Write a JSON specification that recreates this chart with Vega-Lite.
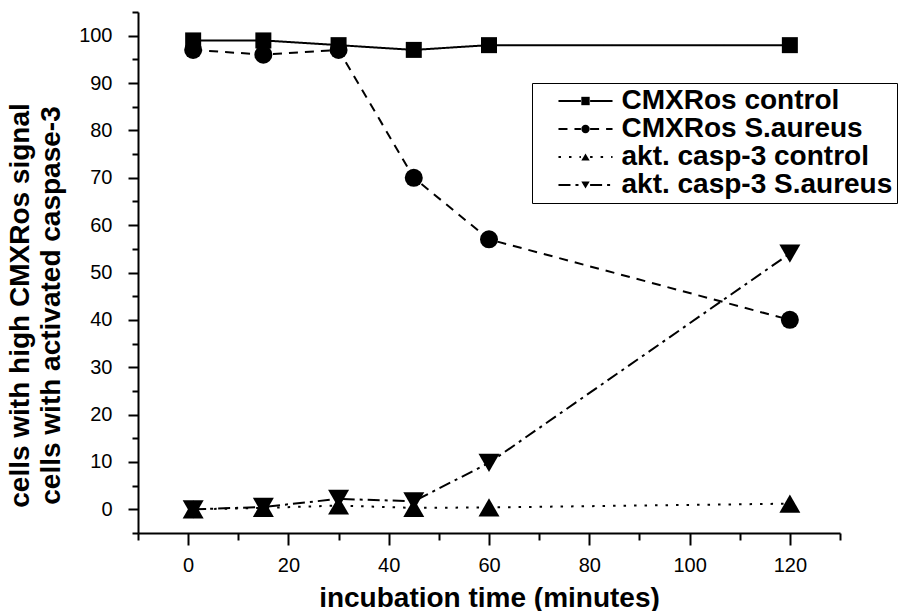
{
  "$schema": "https://vega.github.io/schema/vega-lite/v6.json",
  "autosize": "none",
  "width": 702,
  "height": 521,
  "padding": {"left": 138, "top": 12, "right": 61, "bottom": 78},
  "background": "white",
  "config": {
    "view": {"stroke": null},
    "font": "Liberation Sans",
    "axis": {"domainColor": "black", "domainWidth": 2, "tickColor": "black", "tickWidth": 2, "labelColor": "black", "titleColor": "black", "grid": false, "labelFont": "Liberation Sans", "titleFont": "Liberation Sans"}
  },
  "data": {"values": [
    {"t": 1, "v": 99, "s": "CMXRos control"},
    {"t": 15, "v": 99, "s": "CMXRos control"},
    {"t": 30, "v": 98, "s": "CMXRos control"},
    {"t": 45, "v": 97, "s": "CMXRos control"},
    {"t": 60, "v": 98, "s": "CMXRos control"},
    {"t": 120, "v": 98, "s": "CMXRos control"},
    {"t": 1, "v": 97, "s": "CMXRos S.aureus"},
    {"t": 15, "v": 96, "s": "CMXRos S.aureus"},
    {"t": 30, "v": 97, "s": "CMXRos S.aureus"},
    {"t": 45, "v": 70, "s": "CMXRos S.aureus"},
    {"t": 60, "v": 57, "s": "CMXRos S.aureus"},
    {"t": 120, "v": 40, "s": "CMXRos S.aureus"},
    {"t": 1, "v": 0, "s": "akt. casp-3 control"},
    {"t": 15, "v": 0.3, "s": "akt. casp-3 control"},
    {"t": 30, "v": 0.8, "s": "akt. casp-3 control"},
    {"t": 45, "v": 0.3, "s": "akt. casp-3 control"},
    {"t": 60, "v": 0.4, "s": "akt. casp-3 control"},
    {"t": 120, "v": 1.2, "s": "akt. casp-3 control"},
    {"t": 1, "v": 0, "s": "akt. casp-3 S.aureus"},
    {"t": 15, "v": 0.5, "s": "akt. casp-3 S.aureus"},
    {"t": 30, "v": 2.2, "s": "akt. casp-3 S.aureus"},
    {"t": 45, "v": 1.7, "s": "akt. casp-3 S.aureus"},
    {"t": 60, "v": 9.8, "s": "akt. casp-3 S.aureus"},
    {"t": 120, "v": 54, "s": "akt. casp-3 S.aureus"}
  ]},
  "encoding": {
    "x": {
      "field": "t", "type": "quantitative",
      "scale": {"domain": [-10, 130], "nice": false, "zero": false},
      "axis": {
        "values": [-10, 0, 10, 20, 30, 40, 50, 60, 70, 80, 90, 100, 110, 120, 130],
        "labelExpr": "datum.value % 20 === 0 && datum.value >= 0 ? datum.label : ''",
        "tickSize": {"condition": {"test": "datum.value % 20 === 0", "value": 12}, "value": 7},
        "labelFontSize": 20, "labelPadding": 10, "labelFlush": false, "labelOverlap": false,
        "title": "incubation time (minutes)",
        "titleFontSize": 28, "titleFontWeight": "bold",
        "titleBaseline": "alphabetic", "titleY": 73, "titleX": 351
      }
    },
    "y": {
      "field": "v", "type": "quantitative",
      "scale": {"domain": [-5, 105], "nice": false, "zero": false},
      "axis": {
        "values": [-5, 0, 5, 10, 15, 20, 25, 30, 35, 40, 45, 50, 55, 60, 65, 70, 75, 80, 85, 90, 95, 100, 105],
        "labelExpr": "datum.value % 10 === 0 && datum.value >= 0 && datum.value <= 100 ? datum.label : ''",
        "tickSize": {"condition": {"test": "datum.value % 10 === 0", "value": 10}, "value": 6},
        "labelFontSize": 20, "labelPadding": 16, "labelFlush": false, "labelOverlap": false,
        "title": ["cells with high CMXRos signal", "cells with activated caspase-3"],
        "titleFontSize": 28, "titleFontWeight": "bold", "titleLineHeight": 31,
        "titleX": -104, "titleY": 293, "titleBaseline": "bottom", "titleAngle": -90, "titleAlign": "center"
      }
    }
  },
  "layer": [
    {
      "mark": {"type": "line", "color": "black", "strokeWidth": 2},
      "encoding": {
        "strokeDash": {
          "field": "s", "type": "nominal",
          "scale": {
            "domain": ["CMXRos control", "CMXRos S.aureus", "akt. casp-3 control", "akt. casp-3 S.aureus"],
            "range": [[1, 0], [9, 7], [2.5, 8], [12, 5, 3, 5]]
          },
          "legend": {
            "title": null,
            "orient": "none",
            "legendX": 394,
            "legendY": 71,
            "padding": 4,
            "rowPadding": 0,
            "symbolType": "M-6.46,0H-1.1M1.1,0H6.46",
            "symbolSize": 70,
            "symbolStrokeColor": "black",
            "symbolStrokeWidth": 2,
            "symbolFillColor": "transparent",
            "symbolOffset": 35.5,
            "labelFontSize": 28,
            "labelFontWeight": "bold",
            "labelFont": "Liberation Sans",
            "labelColor": "black",
            "labelOffset": 22,
            "labelLimit": 400,
            "strokeColor": "black",
            "fillColor": "white"
          }
        }
      }
    },
    {
      "mark": {"type": "point", "filled": true, "color": "black", "opacity": 1},
      "encoding": {
        "shape": {
          "field": "s", "type": "nominal",
          "sort": ["CMXRos control", "CMXRos S.aureus", "akt. casp-3 control", "akt. casp-3 S.aureus"],
          "scale": {"range": ["square", "circle", "triangle-up", "triangle-down"]},
          "legend": {
            "title": null,
            "orient": "none",
            "legendX": 394,
            "legendY": 71,
            "padding": 4,
            "rowPadding": 0,
            "symbolSize": 70,
            "symbolFillColor": "black",
            "symbolStrokeColor": "black",
            "symbolStrokeWidth": 0,
            "symbolOffset": 35.5,
            "labelFontSize": 28,
            "labelFontWeight": "bold",
            "labelFont": "Liberation Sans",
            "labelColor": "transparent",
            "labelOffset": 22,
            "labelLimit": 400
          }
        },
        "size": {
          "condition": [
            {"test": "datum.s === 'CMXRos control'", "value": 256},
            {"test": "datum.s === 'CMXRos S.aureus'", "value": 324}
          ],
          "value": 441
        }
      }
    }
  ]
}
